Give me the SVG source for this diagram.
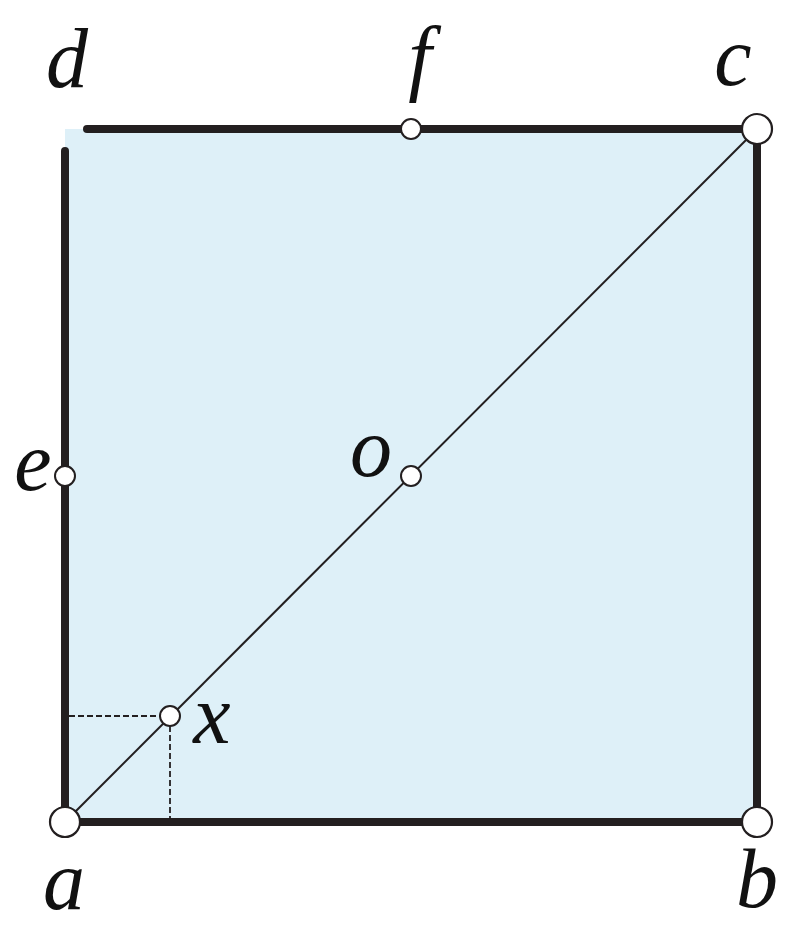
<svg xmlns="http://www.w3.org/2000/svg" width="800" height="930" viewBox="0 0 800 930">
<style>
.lbl{font-family:"Liberation Serif","Times New Roman",serif;font-style:italic;font-size:84px;fill:#111;text-anchor:middle}
.edge{stroke:#231f20;stroke-width:8;stroke-linecap:round;fill:none}
.thin{stroke:#231f20;stroke-width:2;fill:none}
.dash{stroke:#231f20;stroke-width:1.8;stroke-dasharray:6 3;fill:none}
.big{fill:#fff;stroke:#231f20;stroke-width:2.2}
.small{fill:#fff;stroke:#231f20;stroke-width:2}
</style>
<rect x="0" y="0" width="800" height="930" fill="#fff"/>
<rect id="square-fill" x="65" y="129" width="692" height="693" fill="#def0f8"/>
<g id="connectors">
<line class="edge" x1="87" y1="129" x2="757" y2="129"/>
<line class="edge" x1="65" y1="151" x2="65" y2="822"/>
<line class="edge" x1="65" y1="822" x2="757" y2="822"/>
<line class="edge" x1="757" y1="129" x2="757" y2="822"/>
<line class="thin" x1="65" y1="822" x2="757" y2="129"/>
<line class="dash" x1="69" y1="716" x2="160" y2="716"/>
<line class="dash" x1="170" y1="726" x2="170" y2="818"/>
</g>
<g id="node-a"><circle class="big" cx="65" cy="822" r="15"/><text class="lbl" x="64" y="909">a</text></g>
<g id="node-b"><circle class="big" cx="757" cy="822" r="15"/><text class="lbl" x="757" y="907">b</text></g>
<g id="node-c"><circle class="big" cx="757" cy="129" r="15"/><text class="lbl" x="733" y="85">c</text></g>
<g id="node-d"><text class="lbl" x="67" y="87">d</text></g>
<g id="node-e"><circle class="small" cx="65" cy="476" r="10"/><text class="lbl" x="33" y="490">e</text></g>
<g id="node-f"><circle class="small" cx="411" cy="129" r="10"/><text class="lbl" x="420" y="85">f</text></g>
<g id="node-o"><circle class="small" cx="411" cy="476" r="10"/><text class="lbl" x="371" y="476">o</text></g>
<g id="node-x"><circle class="small" cx="170" cy="716" r="10"/><text class="lbl" x="212" y="743">x</text></g>
</svg>
